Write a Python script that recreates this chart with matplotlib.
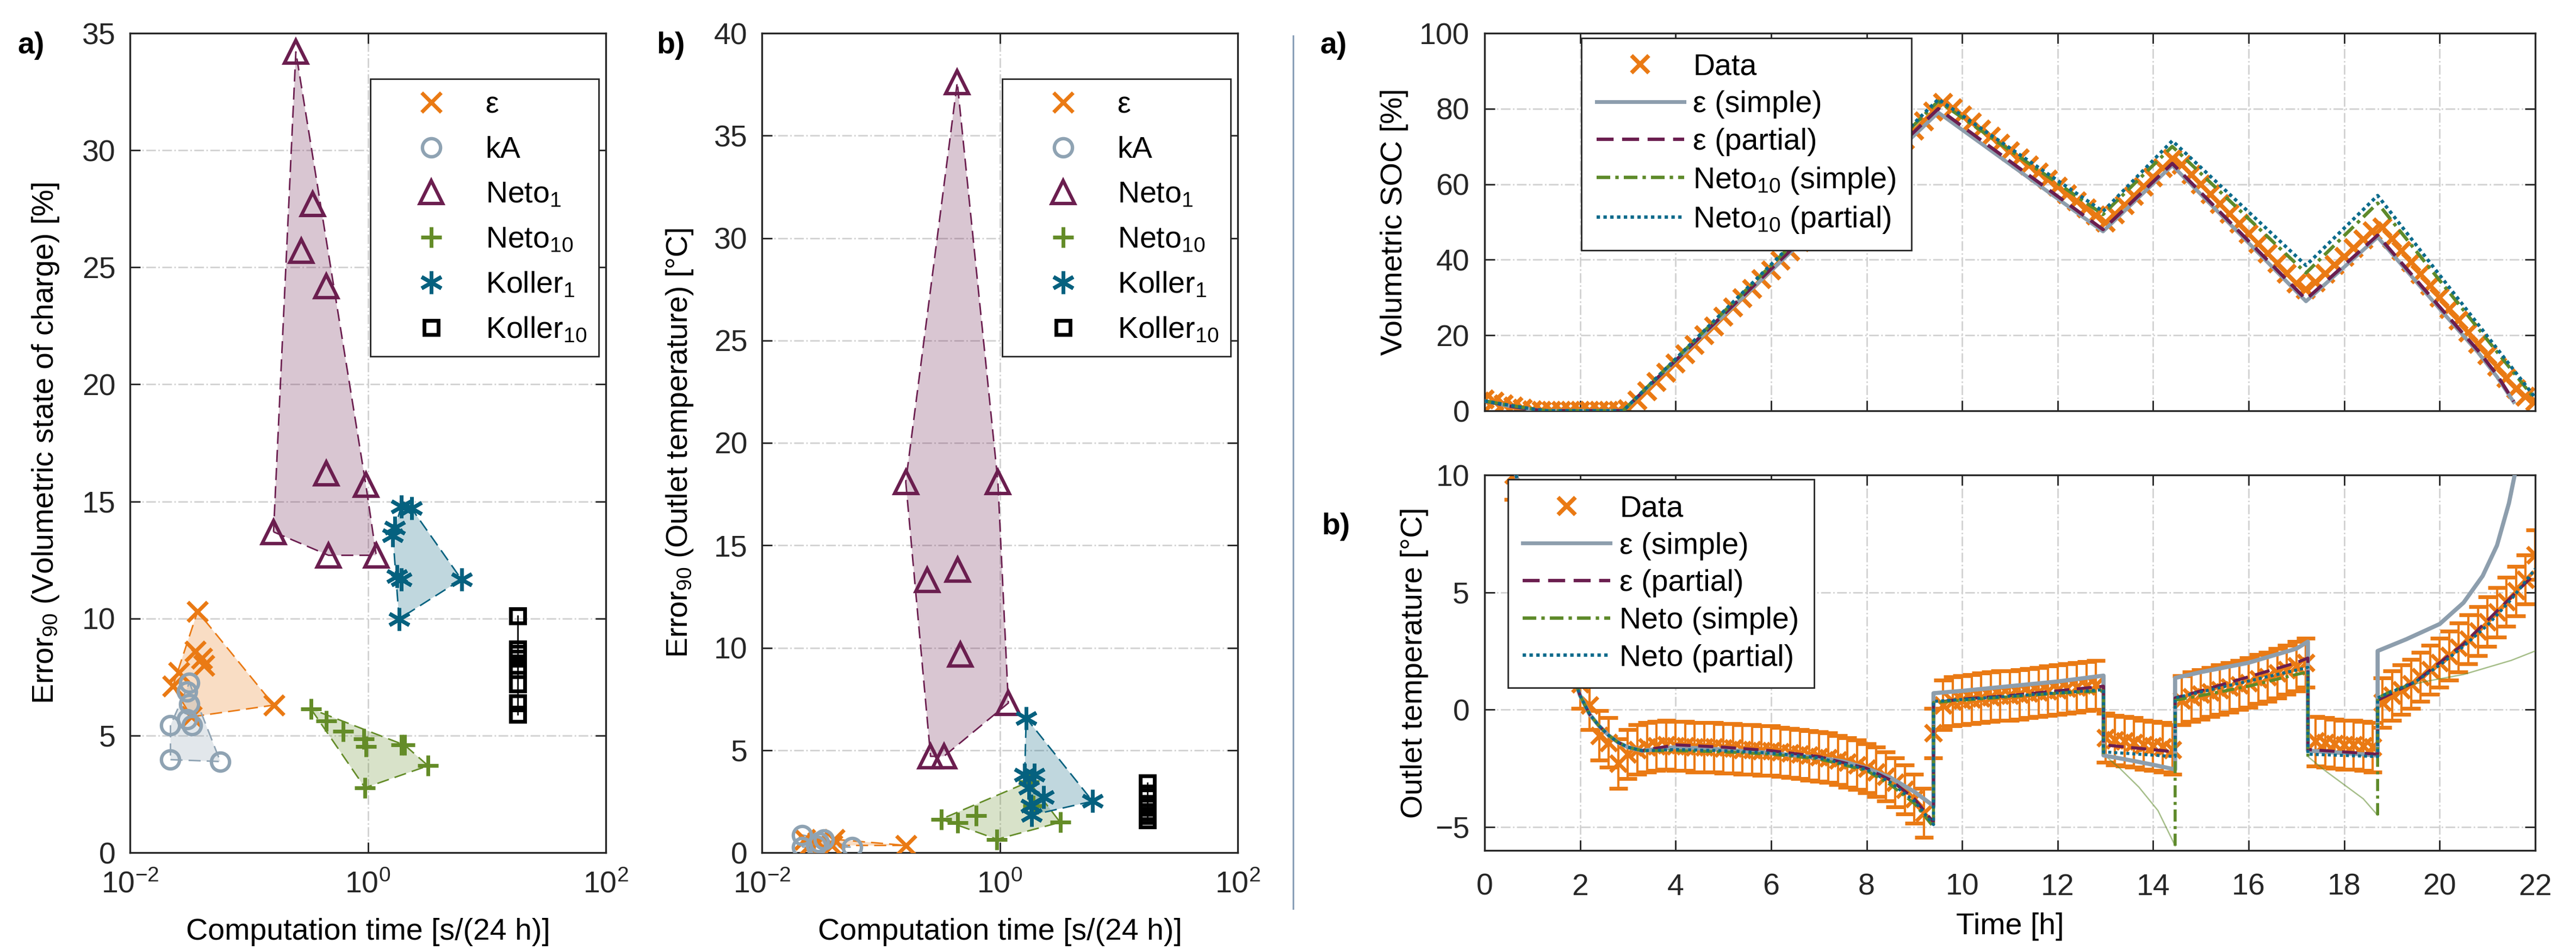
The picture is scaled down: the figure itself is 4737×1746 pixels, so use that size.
import numpy as np
import matplotlib
matplotlib.use('Agg')
import matplotlib.pyplot as plt
from matplotlib.lines import Line2D
from matplotlib.ticker import NullLocator

plt.rcParams['font.family'] = ['Liberation Sans', 'DejaVu Sans']
plt.rcParams['mathtext.fontset'] = 'custom'
plt.rcParams['mathtext.rm'] = 'Liberation Sans'
plt.rcParams['mathtext.it'] = 'Liberation Sans:italic'
plt.rcParams['mathtext.bf'] = 'Liberation Sans:bold'

# ---------------- colours ----------------
C_EPS = '#EA7A14'
C_KA = '#8FA3B3'
C_NETO1 = '#6B1E4F'
C_NETO10 = '#648C28'
C_KOL1 = '#05617F'
C_KOL10 = '#000000'
C_GREY = '#8D9EAD'
C_TEAL = '#0B6B8C'
C_GREEN = '#5E8A2A'

# ---------------- panel a (SOC error vs computation time) ----------------
a_eps_x = [0.037, 0.0355, 0.040, 0.042, 0.0257, 0.0229, 0.033, 0.162]
a_eps_y = [10.3, 8.6, 8.3, 8.0, 7.7, 7.1, 5.8, 6.3]
a_ka_x = [0.0219, 0.0575, 0.0219, 0.0316, 0.0302, 0.0316, 0.0302, 0.0331]
a_ka_y = [3.97, 3.89, 5.44, 7.26, 6.87, 6.35, 5.7, 5.44]
a_neto1_x = [0.248, 0.343, 0.275, 0.447, 0.447, 0.962, 0.161, 0.466, 1.175]
a_neto1_y = [34.2, 27.7, 25.7, 24.2, 16.2, 15.7, 13.7, 12.7, 12.7]
a_neto10_x = [0.332, 0.447, 0.617, 0.923, 0.962, 1.905, 2.04, 3.21, 0.946]
a_neto10_y = [6.14, 5.63, 5.19, 4.85, 4.54, 4.59, 4.59, 3.71, 2.77]
a_kol1_x = [1.905, 2.33, 1.69, 1.62, 1.76, 1.905, 6.12, 1.83]
a_kol1_y = [14.78, 14.7, 13.87, 13.56, 11.8, 11.67, 11.67, 9.98]
a_kol10_x = [18.2, 18.2, 18.2, 18.2, 18.2, 18.2, 18.2, 18.2, 18.2]
a_kol10_y = [10.1, 8.7, 8.5, 8.3, 8.0, 7.8, 7.2, 6.4, 5.9]

# ---------------- panel b (outlet temperature error) ----------------
b_eps_x = [0.162, 0.0407, 0.0389, 0.0295, 0.0251, 0.0229]
b_eps_y = [0.35, 0.65, 0.35, 0.5, 0.35, 0.65]
b_ka_x = [0.0219, 0.0219, 0.0302, 0.0288, 0.0575, 0.0331]
b_ka_y = [0.86, 0.27, 0.5, 0.35, 0.27, 0.65]
b_neto1_x = [0.439, 0.162, 0.964, 0.245, 0.442, 0.468, 1.18, 0.262, 0.339]
b_neto1_y = [37.6, 18.1, 18.1, 13.3, 13.8, 9.67, 7.3, 4.7, 4.7]
b_neto10_x = [0.321, 0.442, 0.635, 0.948, 1.76, 1.905, 3.22]
b_neto10_y = [1.63, 1.45, 1.80, 0.65, 3.46, 2.28, 1.48]
b_kol1_x = [1.667, 1.62, 1.95, 2.34, 1.84, 1.86, 6.03, 1.76]
b_kol1_y = [6.57, 3.8, 3.8, 2.72, 2.28, 1.83, 2.51, 3.16]
b_kol10_x = [17.4, 17.4, 17.4, 17.4, 17.4, 17.4, 17.4]
b_kol10_y = [3.4, 2.9, 2.4, 2.2, 2.0, 1.8, 1.6]

series_labels = ['ε', 'kA', 'Neto$_{1}$', 'Neto$_{10}$', 'Koller$_{1}$', 'Koller$_{10}$']

# ---------------- time series (right panels) ----------------
t_data = np.round(np.arange(0, 22.001, 0.2), 1)

soc_data = [3.0, 2.4, 1.8, 1.2, 0.6, 0.2, 0.0, 0.0, 0.0, 0.0, 0.0, 0.0, 0.0, 0.0, 0.0,
            0.4, 2.7, 5.2, 7.6, 10.1, 12.6, 15.0, 17.5, 20.0, 22.4, 24.9, 27.4, 29.8, 32.3,
            34.8, 37.2, 39.7, 42.2, 44.6, 47.1, 49.6, 52.0, 54.5, 57.0, 59.4, 61.9, 64.4,
            66.8, 69.3, 71.8, 74.2, 76.7, 79.2, 81.6, 80.1, 78.3, 76.4, 74.5, 72.6, 70.7,
            68.8, 66.9, 65.0, 63.1, 61.2, 59.3, 57.4, 55.5, 53.6, 51.7, 49.8, 52.0, 54.5,
            56.9, 59.4, 61.8, 64.3, 66.7, 65.2, 62.6, 60.0, 57.4, 54.7, 52.1, 49.5, 46.8,
            44.2, 41.6, 39.0, 36.3, 33.7, 32.2, 34.0, 36.3, 38.6, 40.8, 43.1, 45.4, 47.6,
            48.5, 45.5, 42.4, 39.3, 36.2, 33.1, 30.0, 27.0, 23.9, 20.8, 17.7, 14.7, 11.6,
            8.6, 5.8, 3.7, 2.5]

soc_eps_simple_t = [0, 0.5, 1.0, 1.3, 2.9, 9.5, 12.95, 14.4, 17.2, 18.7, 20.0, 20.8, 21.2, 21.55]
soc_eps_simple_y = [2.6, 1.3, 0.3, 0.0, 0.0, 79.0, 47.5, 65.0, 29.0, 46.0, 27.0, 15.5, 9.0, 2.3]
soc_eps_partial_t = [0, 0.5, 1.0, 1.3, 2.9, 9.5, 12.95, 14.4, 17.2, 18.7, 20.0, 20.8, 21.2, 21.55]
soc_eps_partial_y = [2.6, 1.3, 0.3, 0.0, 0.0, 80.0, 48.0, 65.5, 29.5, 46.5, 27.5, 16.0, 9.5, 2.5]
soc_neto_simple_t = [0, 0.5, 1.0, 1.3, 2.9, 9.5, 12.95, 14.4, 17.2, 18.7, 22.0]
soc_neto_simple_y = [2.6, 1.5, 0.5, 0.0, 0.0, 82.0, 52.0, 70.0, 36.5, 55.0, 3.0]
soc_neto_partial_t = [0, 0.5, 1.0, 1.3, 2.9, 9.5, 12.95, 14.4, 17.2, 18.7, 22.0]
soc_neto_partial_y = [2.6, 1.5, 0.5, 0.0, 0.0, 82.5, 52.8, 71.5, 38.5, 57.0, 3.5]

temp_data = [15.0, 13.6, 12.1, 10.0, 8.6, 7.1, 5.7, 4.4, 3.2, 2.1, 1.1, 0.2, -1.1, -1.4,
             -2.3, -1.9, -1.7, -1.6, -1.55, -1.5, -1.55, -1.55, -1.6, -1.6, -1.6, -1.65,
             -1.65, -1.7, -1.7, -1.75, -1.75, -1.8, -1.85, -1.9, -1.95, -2.0, -2.05, -2.15,
             -2.25, -2.35, -2.5, -2.65, -2.85, -3.1, -3.4, -3.8, -4.4, -1.0, 0.2, 0.35, 0.4,
             0.45, 0.5, 0.55, 0.6, 0.6, 0.65, 0.7, 0.75, 0.8, 0.85, 0.9, 0.95, 1.0, 1.05,
             -1.2, -1.3, -1.35, -1.4, -1.5, -1.55, -1.6, -1.7, 0.4, 0.55, 0.65, 0.75, 0.85,
             0.95, 1.05, 1.15, 1.3, 1.4, 1.55, 1.7, 1.85, 2.0, -1.35, -1.4, -1.45, -1.5,
             -1.5, -1.55, -1.6, 0.3, 0.6, 0.85, 1.1, 1.4, 1.7, 2.0, 2.3, 2.65, 3.0, 3.35,
             3.75, 4.15, 4.6, 5.05, 5.55, 6.6]
temp_err = 1.05

early_t = [0.6, 0.9, 1.2, 1.5, 1.8, 2.0, 2.2, 2.4, 2.6, 2.8, 3.0, 3.3]
early_y = [10.5, 8.0, 5.5, 3.5, 1.8, 0.6, -0.2, -0.7, -1.1, -1.4, -1.6, -1.75]

tmp_eps_simple_t = early_t + [4.0, 5.0, 6.0, 7.0, 7.5, 8.0, 8.5, 9.0, 9.4,
                              9.4, 10.0, 11.0, 12.0, 12.96, 12.96, 13.5, 14.0, 14.46,
                              14.46, 15.0, 16.0, 17.0, 17.24, 17.24, 18.0, 18.7,
                              18.7, 19.3, 20.0, 20.5, 20.9, 21.2, 21.45, 21.6]
tmp_eps_simple_y = early_y + [-1.6, -1.7, -1.85, -2.05, -2.2, -2.5, -2.9, -3.5, -4.1,
                              0.7, 0.8, 1.0, 1.2, 1.45, -1.95, -2.15, -2.35, -2.55,
                              1.35, 1.6, 2.0, 2.6, 2.9, -1.75, -1.85, -1.95,
                              2.5, 3.0, 3.65, 4.56, 5.7, 7.0, 8.8, 10.3]
tmp_eps_partial_t = early_t + [4.0, 5.0, 6.0, 7.0, 8.0, 8.5, 9.0, 9.4,
                               9.4, 10.0, 11.0, 12.0, 12.96, 12.96, 14.46,
                               14.46, 15.0, 16.0, 17.0, 17.24, 17.24, 18.7,
                               18.7, 19.5, 20.0, 20.5, 21.0, 21.5, 22.0]
tmp_eps_partial_y = early_y + [-1.5, -1.6, -1.75, -2.0, -2.5, -3.0, -3.8, -4.8,
                               0.3, 0.45, 0.6, 0.8, 1.0, -1.5, -1.8,
                               0.5, 0.8, 1.4, 2.0, 2.2, -1.7, -1.9,
                               0.4, 1.2, 2.0, 2.8, 3.8, 4.8, 5.8]
tmp_neto_simple_t = early_t + [4.0, 5.0, 6.0, 7.0, 8.0, 8.5, 9.0, 9.4,
                               9.4, 10.0, 11.0, 12.0, 12.96, 12.96, np.nan,
                               14.46, 14.46, 15.0, 16.0, 17.0, 17.24, 17.24, np.nan,
                               18.7, 18.7, 19.0, 19.3]
tmp_neto_simple_y = early_y + [-1.75, -1.8, -1.9, -2.1, -2.6, -3.2, -4.0, -5.0,
                               0.3, 0.4, 0.55, 0.7, 0.8, -1.9, np.nan,
                               -5.8, 0.4, 0.6, 1.0, 1.5, 1.6, -2.0, np.nan,
                               -4.5, 0.5, 0.8, 1.0]
tmp_neto_simple_faded_t = [12.96, 13.3, 13.7, 14.1, 14.46, np.nan, 17.24, 17.6, 18.0, 18.4, 18.7,
                           np.nan, 19.3, 19.7, 20.5, 21.0, 21.5, 22.0]
tmp_neto_simple_faded_y = [-1.9, -2.5, -3.3, -4.3, -5.8, np.nan, -2.0, -2.6, -3.2, -3.8, -4.5,
                           np.nan, 1.0, 1.2, 1.5, 1.8, 2.1, 2.5]
tmp_neto_partial_t = early_t + [4.0, 5.0, 6.0, 7.0, 8.0, 8.5, 9.0, 9.4,
                                9.4, 12.96, 12.96, 14.46, 14.46, 17.24, 17.24, 18.7,
                                18.7, 19.5, 20.0, 20.5, 21.0, 21.5, 22.0]
tmp_neto_partial_y = early_y + [-1.7, -1.75, -1.85, -2.05, -2.55, -3.1, -3.9, -4.9,
                                0.35, 0.85, -1.8, -2.0, 0.5, 1.8, -1.9, -2.0,
                                0.5, 1.2, 1.9, 2.7, 3.6, 4.7, 6.0]

assert len(soc_data) == len(t_data) and len(temp_data) == len(t_data)

# ---------------- figure ----------------
W, H = 4737, 1746
DPI = 100
fig = plt.figure(figsize=(W / DPI, H / DPI), dpi=DPI)
FS = 40


def ax_at(l, r, t, b):
    return fig.add_axes([l / W, 1 - b / H, (r - l) / W, (b - t) / H])


def style(ax, xpad=24, ypad=19):
    for s in ax.spines.values():
        s.set_color('#262626')
        s.set_linewidth(2.4)
    ax.tick_params(which='both', direction='in', length=14, width=2, colors='#262626',
                   labelsize=FS, top=True, right=True)
    ax.tick_params(axis='x', pad=xpad)
    ax.tick_params(axis='y', pad=ypad)
    ax.grid(True, which='major', color='#d2d2d2', linestyle='-.', linewidth=2)
    ax.set_axisbelow(True)


def convex_hull(xs, ys):
    pts = sorted(set(zip(np.log10(xs), ys)))
    if len(pts) < 3:
        return pts

    def cross(o, a, b):
        return (a[0] - o[0]) * (b[1] - o[1]) - (a[1] - o[1]) * (b[0] - o[0])
    lower = []
    for p in pts:
        while len(lower) >= 2 and cross(lower[-2], lower[-1], p) <= 0:
            lower.pop()
        lower.append(p)
    upper = []
    for p in reversed(pts):
        while len(upper) >= 2 and cross(upper[-2], upper[-1], p) <= 0:
            upper.pop()
        upper.append(p)
    return lower[:-1] + upper[:-1]


marker_specs = [
    dict(marker='x', ms=26, mew=5, color=C_EPS),
    dict(marker='o', ms=24, mew=4.5, color=C_KA, mfc='none'),
    dict(marker='^', ms=30, mew=4.5, color=C_NETO1, mfc='none'),
    dict(marker='+', ms=28, mew=5, color=C_NETO10),
    dict(marker=(6, 2, 0), ms=30, mew=5, color=C_KOL1),
    dict(marker='s', ms=19, mew=5, color=C_KOL10, mfc='none'),
]


def scatter_panel(ax, xs_list, ys_list, ylim, yticks, ylabel, ylabel_x):
    style(ax)
    handles = []
    for xs, ys, spec in zip(xs_list, ys_list, marker_specs):
        h = convex_hull(xs, ys)
        if len(h) >= 3:
            hx = 10 ** np.array([p[0] for p in h])
            hy = np.array([p[1] for p in h])
            if spec['color'] != C_KOL10:
                ax.fill(hx, hy, color=spec['color'], alpha=0.25, lw=0, zorder=1)
            ax.plot(np.append(hx, hx[0]), np.append(hy, hy[0]), color=spec['color'],
                    ls=(0, (8, 4)), lw=2, zorder=1.5)
        elif len(h) == 2:
            ax.plot(10 ** np.array([p[0] for p in h]), [p[1] for p in h],
                    color=spec['color'], lw=2, zorder=1.5)
        ln, = ax.plot(xs, ys, ls='none', zorder=3, **spec)
        handles.append(ln)
    ax.set_xscale('log')
    ax.set_xlim(1e-2, 1e2)
    ax.set_xticks([1e-2, 1, 1e2])
    ax.xaxis.set_minor_locator(NullLocator())
    ax.set_ylim(*ylim)
    ax.set_yticks(yticks)
    ax.set_xlabel('Computation time [s/(24 h)]', fontsize=FS, va='center')
    ax.xaxis.set_label_coords(0.5, -0.097)
    ax.set_ylabel(ylabel, fontsize=FS, va='center', ha='center')
    ax.yaxis.set_label_coords(ylabel_x, 0.5)
    leg = ax.legend(handles, series_labels, loc='upper right', bbox_to_anchor=(0.985, 0.944),
                    borderaxespad=0, borderpad=0.4, handlelength=3.2, handletextpad=0.2,
                    labelspacing=0.55, fontsize=FS, frameon=True, fancybox=False,
                    edgecolor='#262626', framealpha=1)
    leg.get_frame().set_linewidth(2)


ax1 = ax_at(239, 1114, 61, 1567)
scatter_panel(ax1,
              [a_eps_x, a_ka_x, a_neto1_x, a_neto10_x, a_kol1_x, a_kol10_x],
              [a_eps_y, a_ka_y, a_neto1_y, a_neto10_y, a_kol1_y, a_kol10_y],
              (0, 35), range(0, 36, 5),
              'Error$_{90}$ (Volumetric state of charge) [%]', -0.177)

ax2 = ax_at(1401, 2276, 61, 1567)
scatter_panel(ax2,
              [b_eps_x, b_ka_x, b_neto1_x, b_neto10_x, b_kol1_x, b_kol10_x],
              [b_eps_y, b_ka_y, b_neto1_y, b_neto10_y, b_kol1_y, b_kol10_y],
              (0, 40), range(0, 41, 5),
              'Error$_{90}$ (Outlet temperature) [°C]', -0.173)

# ---------------- right top: SOC ----------------
ax3 = ax_at(2730, 4662, 61, 755)
style(ax3, xpad=30, ypad=20)
ax3.plot(t_data, soc_data, ls='none', marker='x', ms=23, mew=5.5, color=C_EPS, zorder=2)
ax3.plot(soc_eps_simple_t, soc_eps_simple_y, color=C_GREY, lw=5, zorder=3)
ax3.plot(soc_eps_partial_t, soc_eps_partial_y, color=C_NETO1, lw=4.5, ls=(0, (5, 2.5)), zorder=3)
ax3.plot(soc_neto_simple_t, soc_neto_simple_y, color=C_GREEN, lw=4.5, ls=(0, (4, 1.5, 1, 1.5)), zorder=3)
ax3.plot(soc_neto_partial_t, soc_neto_partial_y, color=C_TEAL, lw=4.5, ls=(0, (1, 1)), zorder=3)
ax3.set_xlim(0, 22)
ax3.set_ylim(0, 100)
ax3.set_xticks(range(0, 23, 2))
ax3.set_xticklabels([])
ax3.set_yticks(range(0, 101, 20))
ax3.set_ylabel('Volumetric SOC [%]', fontsize=FS, va='center', ha='center')
ax3.yaxis.set_label_coords(-0.086, 0.5)

h_data = Line2D([], [], ls='none', marker='x', ms=23, mew=5.5, color=C_EPS)
h_es = Line2D([], [], color=C_GREY, lw=5)
h_ep = Line2D([], [], color=C_NETO1, lw=4.5, ls=(0, (5, 2.5)))
h_ns = Line2D([], [], color=C_GREEN, lw=4.5, ls=(0, (4, 1.5, 1, 1.5)))
h_np = Line2D([], [], color=C_TEAL, lw=4.5, ls=(0, (1, 1)))

leg3 = ax3.legend([h_data, h_es, h_ep, h_ns, h_np],
                  ['Data', 'ε (simple)', 'ε (partial)', 'Neto$_{10}$ (simple)', 'Neto$_{10}$ (partial)'],
                  loc='upper left', bbox_to_anchor=(0.092, 0.987), borderaxespad=0,
                  borderpad=0.5, handlelength=2.9, handletextpad=0.3, labelspacing=0.3,
                  fontsize=FS, frameon=True, fancybox=False, edgecolor='#262626', framealpha=1)
leg3.get_frame().set_linewidth(2)

# ---------------- right bottom: outlet temperature ----------------
ax4 = ax_at(2730, 4662, 873, 1563)
style(ax4, xpad=30, ypad=20)
ax4.errorbar(t_data, temp_data, yerr=temp_err, fmt='x', ms=22, mew=5, color=C_EPS,
             ecolor=C_EPS, elinewidth=3, capsize=12, capthick=3, zorder=2)
ax4.plot(tmp_neto_simple_faded_t, tmp_neto_simple_faded_y, color=C_GREEN, lw=1.8, alpha=0.55, zorder=3)
ax4.plot(tmp_eps_simple_t, tmp_eps_simple_y, color=C_GREY, lw=5.5, zorder=3)
ax4.plot(tmp_eps_partial_t, tmp_eps_partial_y, color=C_NETO1, lw=4, ls=(0, (5, 2.5)), zorder=3)
ax4.plot(tmp_neto_simple_t, tmp_neto_simple_y, color=C_GREEN, lw=4, ls=(0, (4, 1.5, 1, 1.5)), zorder=3)
ax4.plot(tmp_neto_partial_t, tmp_neto_partial_y, color=C_TEAL, lw=4, ls=(0, (1, 1)), zorder=3)
ax4.set_xlim(0, 22)
ax4.set_ylim(-6, 10)
ax4.set_xticks(range(0, 23, 2))
ax4.set_yticks([-5, 0, 5, 10])
ax4.set_xlabel('Time [h]', fontsize=FS, va='center')
ax4.xaxis.set_label_coords(0.5, -0.203)
ax4.set_ylabel('Outlet temperature [°C]', fontsize=FS, va='center', ha='center')
ax4.yaxis.set_label_coords(-0.067, 0.5)

leg4 = ax4.legend([h_data, h_es, h_ep, h_ns, h_np],
                  ['Data', 'ε (simple)', 'ε (partial)', 'Neto (simple)', 'Neto (partial)'],
                  loc='upper left', bbox_to_anchor=(0.022, 0.988), borderaxespad=0,
                  borderpad=0.5, handlelength=2.9, handletextpad=0.3, labelspacing=0.3,
                  fontsize=FS, frameon=True, fancybox=False, edgecolor='#262626', framealpha=1)
leg4.get_frame().set_linewidth(2)

# ---------------- panel labels and divider ----------------
for (px, py, s) in [(57, 84, 'a)'), (1234, 84, 'b)'), (2452, 84, 'a)'), (2457, 968, 'b)')]:
    fig.text(px / W, 1 - py / H, s, fontsize=FS, fontweight='bold', ha='center', va='center')

fig.add_artist(Line2D([2378 / W, 2378 / W], [1 - 66 / H, 1 - 1670 / H], transform=fig.transFigure,
                      color='#8A9FB8', lw=2.2))

fig.savefig('out.png', dpi=DPI, facecolor='white')
